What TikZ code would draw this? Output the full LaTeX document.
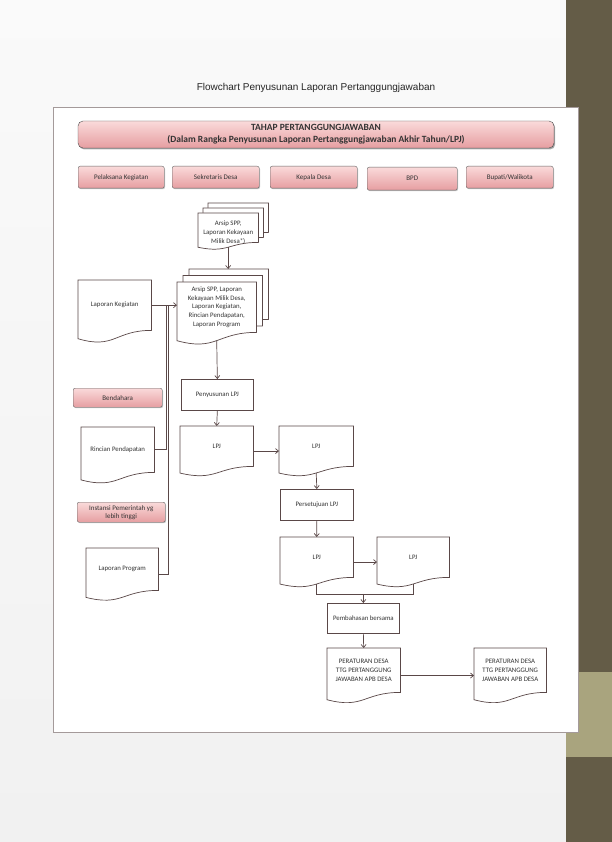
\documentclass[tikz,border=0pt]{standalone}
\usepackage{fontspec}
\setmainfont{Carlito}
\newfontfamily\titlefont{Liberation Sans}
\usetikzlibrary{arrows.meta,calc,shadows}

\definecolor{linecol}{HTML}{5A4848}
\definecolor{txtcol}{HTML}{333333}
\definecolor{pinktop}{HTML}{FADADA}
\definecolor{pinkbot}{HTML}{E69EA1}
\definecolor{olive}{HTML}{645C47}
\definecolor{olivelight}{HTML}{A9A47E}

\pgfdeclarelayer{bg}
\pgfsetlayers{bg,main}

% outline of a document symbol round a node, wave below it
\newcommand{\docout}[1]{%
  \begin{pgfonlayer}{bg}
    \draw[docline] (#1.north west) -- (#1.north east) -- (#1.south east)
      .. controls (#1.south) and ($(#1.north)!1.38!(#1.south)$) .. ($(#1.north west)!1.165!(#1.south west)$) -- cycle;
  \end{pgfonlayer}
  \coordinate (#1-b) at ($(#1.north)!1.163!(#1.south)$);
  \coordinate (#1-e) at ($(#1.north east)!0.62!(#1.south east)$);
  \coordinate (#1-w) at ($(#1.north west)!0.62!(#1.south west)$);}

\begin{document}
\begin{tikzpicture}[x=1pt, y=-1pt,
	every node/.style={text=txtcol},
	line/.style={draw=linecol, line width=0.7pt},
	docline/.style={line, fill=white},
	arr/.style={line, -{Straight Barb[length=3pt,width=5pt]}},
	docbox/.style={anchor=north west, inner sep=0pt, align=center, font=\fontsize{6.8}{8.7}\selectfont},
	procbox/.style={docbox, draw=linecol, line width=0.7pt, fill=white},
	rolebox/.style={anchor=north west, inner sep=0pt, align=center, rounded corners=2pt, draw=gray!80!black, top color=pinktop, bottom color=pinkbot, drop shadow={shadow xshift=0.8pt, shadow yshift=-1pt, opacity=0.45}, font=\fontsize{7}{8}\selectfont}]
	\useasboundingbox (0,0) rectangle (612,842);
	\begin{pgfonlayer}{bg}
		\shade[top color=gray!4, bottom color=gray!11] (0,0) rectangle (566,842);
		\fill[olive] (566,0) rectangle (612,842);
		\fill[olivelight] (566,672) rectangle (612,757);
		\draw[draw=linecol!55, line width=0.8pt, fill=white, drop shadow={shadow xshift=1pt, shadow yshift=-1pt, opacity=0.3}] (53,107) rectangle (578,732);
	\end{pgfonlayer}

	\node[font=\titlefont\fontsize{10}{12}\selectfont, text=black!85] (title) at (316,88) {Flowchart Penyusunan Laporan Pertanggungjawaban};

	\node[rolebox, anchor=center, minimum width=476pt, minimum height=27pt, rounded corners=5pt, draw=black!70, font=\bfseries\fontsize{9.5}{12}\selectfont, drop shadow={shadow xshift=1.2pt, shadow yshift=-1.5pt, opacity=0.55}] (banner) at (316,134.5) {TAHAP PERTANGGUNGJAWABAN\\(Dalam Rangka Penyusunan Laporan Pertanggungjawaban Akhir Tahun/LPJ)};

	\node[rolebox, minimum width=86pt, minimum height=22pt] (pk) at (78,166) {Pelaksana Kegiatan};
	\node[rolebox, minimum width=87pt, minimum height=22pt] (sd) at (172,166) {Sekretaris Desa};
	\node[rolebox, minimum width=87pt, minimum height=22pt] (kd) at (270,166) {Kepala Desa};
	\node[rolebox, minimum width=90pt, minimum height=23pt] (bpd) at (367,167) {BPD};
	\node[rolebox, minimum width=87pt, minimum height=22pt] (bw) at (466,166) {Bupati/Walikota};
	\node[rolebox, minimum width=89pt, minimum height=19pt] (bend) at (73,388) {Bendahara};
	\node[rolebox, minimum width=88pt, minimum height=20pt] (inst) at (77,502) {Instansi Pemerintah yg\\lebih tinggi};

	% stacked documents
	\node[docbox, minimum width=60pt, minimum height=29pt] (arsipc) at (208,203) {};
	\node[docbox, minimum width=60pt, minimum height=29pt] (arsipm) at (203,208) {};
	\node[docbox, minimum width=60pt, minimum height=29pt] (arsip) at (198,213) {};
	\node[docbox, anchor=center] (arsiptxt) at ($(arsip.center)+(0,5)$) {Arsip SPP,\\Laporan Kekayaan\\Milik Desa*)};
	\docout{arsipc}\docout{arsipm}\docout{arsip}
	\node[docbox, minimum width=79pt, minimum height=50pt] (rekapc) at (189,269) {};
	\node[docbox, minimum width=79pt, minimum height=50pt] (rekapm) at (183,275.5) {};
	\node[docbox, minimum width=79pt, minimum height=50pt] (rekap) at (177,282) {Arsip SPP, Laporan\\Kekayaan Milik Desa,\\Laporan Kegiatan,\\Rincian Pendapatan,\\Laporan Program};
	\docout{rekapc}\docout{rekapm}\docout{rekap}

	% single documents
	\node[docbox, minimum width=73pt, minimum height=50pt] (kg) at (78,280) {Laporan Kegiatan};
	\node[docbox, minimum width=73pt, minimum height=45pt] (rp) at (81,427) {Rincian Pendapatan};
	\node[docbox, minimum width=72pt, minimum height=42pt] (lp) at (86,548) {Laporan Program};
	\node[docbox, minimum width=73pt, minimum height=40pt] (lpj1) at (180,426) {LPJ};
	\node[docbox, minimum width=74pt, minimum height=40pt] (lpj2) at (279,426) {LPJ};
	\node[docbox, minimum width=73pt, minimum height=40pt] (lpj3) at (280,537) {LPJ};
	\node[docbox, minimum width=72pt, minimum height=40pt] (lpj4) at (377,537) {LPJ};
	\node[docbox, minimum width=73pt, minimum height=44pt] (perdes1) at (327,648) {PERATURAN DESA\\TTG PERTANGGUNG\\JAWABAN APB DESA};
	\node[docbox, minimum width=72pt, minimum height=44pt] (perdes2) at (474,648) {PERATURAN DESA\\TTG PERTANGGUNG\\JAWABAN APB DESA};
	\docout{kg}\docout{rp}\docout{lp}
	\docout{lpj1}\docout{lpj2}\docout{lpj3}\docout{lpj4}
	\docout{perdes1}\docout{perdes2}

	% processes
	\node[procbox, minimum width=72pt, minimum height=31pt] (susun) at (181,379) {Penyusunan LPJ};
	\node[procbox, minimum width=73pt, minimum height=31pt] (setuju) at (280,489) {Persetujuan LPJ};
	\node[procbox, minimum width=72pt, minimum height=30pt] (bahas) at (327,603) {Pembahasan bersama};

	% connectors
	\coordinate (ja) at (166,305);
	\coordinate (jb) at (168,305);
	\draw[arr] (arsip-b) -- (arsip-b |- rekapc.north);
	\draw[arr] (kg.east) -- (kg.east -| rekap.west);
	\draw[line] (rp.east) -| (ja);
	\draw[line] (lp-e) -| (jb);
	\draw[arr] (rekap-b) -- (susun.north);
	\draw[arr] (susun.south) -- (lpj1.north);
	\draw[arr] (lpj1-e) -- (lpj2-w);
	\draw[arr] (lpj2-b) -- (setuju.north);
	\draw[arr] (setuju.south) -- (lpj3.north);
	\draw[arr] (lpj3-e) -- (lpj4-w);
	\draw[line] (lpj3-b) -- ++(0,10) coordinate (jn) -| (lpj4-b);
	\draw[arr] (jn -| bahas.north) -- (bahas.north);
	\draw[arr] (bahas.south) -- (perdes1.north);
	\draw[arr] (perdes1-e) -- (perdes2-w);
\end{tikzpicture}
\end{document}
